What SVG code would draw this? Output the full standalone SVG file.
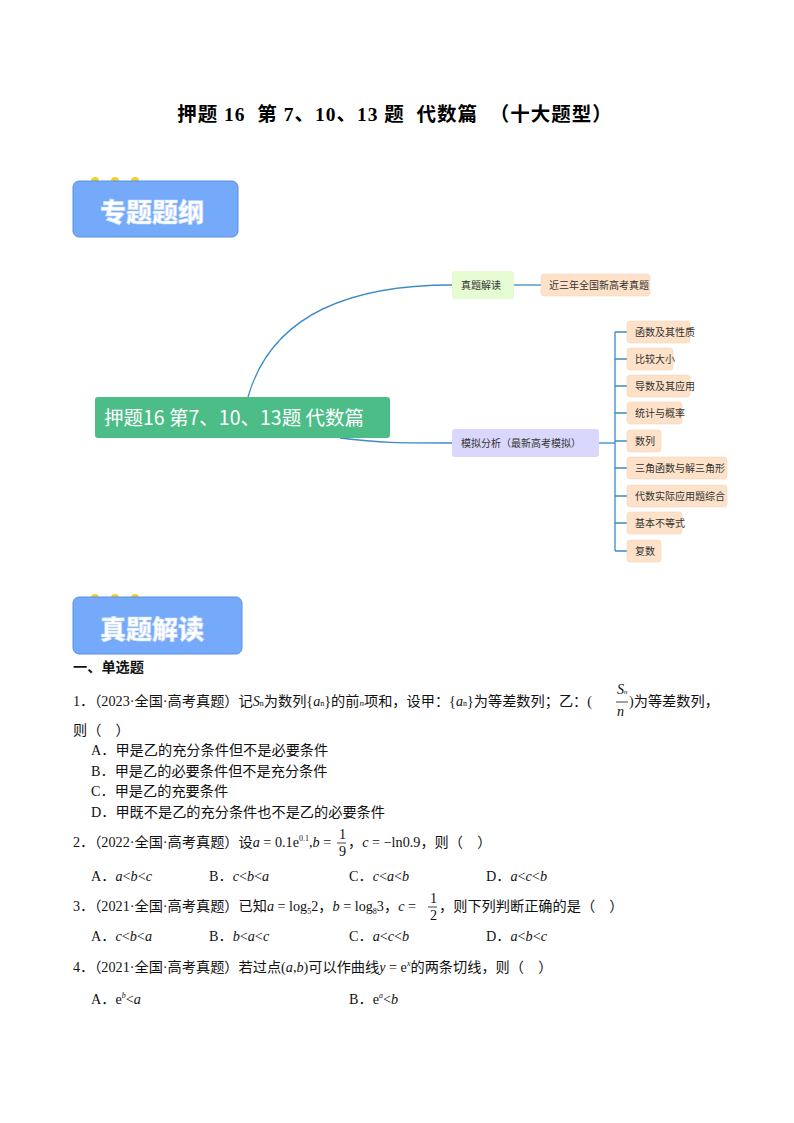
<svg xmlns="http://www.w3.org/2000/svg" width="794" height="1123" viewBox="0 0 794 1123">
<style>
.t{font-family:"Liberation Serif","Noto Sans CJK SC",serif;font-size:14.2px;fill:#111}
.i{font-style:italic}
.m{font-family:"Noto Sans CJK SC",sans-serif;font-size:10px;fill:#333}
.pe{fill:#fde2c9;stroke:#f3d3b3;stroke-width:0.5}
.hd{fill:#75a9f9;stroke:#5b8fe6;stroke-width:1}
.hdt{font-family:"Noto Sans CJK SC",sans-serif;font-weight:900;font-size:26px;fill:#fff;stroke:#c9dcfb;stroke-width:0.6}
.dot{fill:#f5d020}
.c{fill:none;stroke:#3a8cc4;stroke-width:1.3}
</style>
<rect width="794" height="1123" fill="#fff"/>
<text x="395" y="121" text-anchor="middle" font-family="Liberation Serif,'Noto Sans CJK SC',serif" font-weight="bold" font-size="19.5" letter-spacing="1" xml:space="preserve">押题 16  第 7、10、13 题  代数篇  （十大题型）</text>
<g id="header1"><circle class="dot" cx="95" cy="181" r="4"/><circle class="dot" cx="115" cy="181" r="4"/><circle class="dot" cx="135" cy="181" r="4"/><rect class="hd" x="73" y="181" width="165" height="56" rx="6"/><text class="hdt" x="100" y="222">专题题纲</text></g>
<g id="connectors">
<path class="c" d="M248,397 C270,320 340,285 452,285"/>
<path class="c" d="M340,438 C380,443 400,443 452,443"/>
<path class="c" d="M514,285 L541,285"/>
<path class="c" d="M599,443 L615,443"/>
<path class="c" d="M615,332 V551 M615,332 H627 M615,359 H627 M615,386 H627 M615,413 H627 M615,441 H627 M615,468 H627 M615,496 H627 M615,523 H627 M615,551 H627" stroke-width="1"/>
</g>
<g id="root"><rect x="95" y="397" width="295" height="41" rx="3" fill="#4dbd88"/><text x="104" y="425" font-family="'Noto Sans CJK SC',sans-serif" font-size="19.5" fill="#fff">押题16 第7、10、13题 代数篇</text></g>
<g id="n1"><rect x="452" y="271" width="62" height="28" rx="3" fill="#e5fbd2"/><text class="m" x="461" y="289">真题解读</text></g>
<g id="n1a"><rect class="pe" x="541" y="274" width="109" height="22" rx="3"/><text class="m" x="549" y="289">近三年全国新高考真题</text></g>
<g id="n2"><rect x="452" y="429" width="147" height="28" rx="3" fill="#d9d7fb"/><text class="m" x="461" y="447">模拟分析（最新高考模拟）</text></g>
<g id="s1"><rect class="pe" x="627" y="321" width="63" height="22" rx="3"/><text class="m" x="635" y="336">函数及其性质</text></g>
<g id="s2"><rect class="pe" x="627" y="348" width="46" height="22" rx="3"/><text class="m" x="635" y="363">比较大小</text></g>
<g id="s3"><rect class="pe" x="627" y="375" width="63" height="22" rx="3"/><text class="m" x="635" y="390">导数及其应用</text></g>
<g id="s4"><rect class="pe" x="627" y="402" width="55" height="22" rx="3"/><text class="m" x="635" y="417">统计与概率</text></g>
<g id="s5"><rect class="pe" x="627" y="430" width="34" height="22" rx="3"/><text class="m" x="635" y="445">数列</text></g>
<g id="s6"><rect class="pe" x="627" y="457" width="100" height="22" rx="3"/><text class="m" x="635" y="472">三角函数与解三角形</text></g>
<g id="s7"><rect class="pe" x="627" y="485" width="100" height="22" rx="3"/><text class="m" x="635" y="500">代数实际应用题综合</text></g>
<g id="s8"><rect class="pe" x="627" y="512" width="55" height="22" rx="3"/><text class="m" x="635" y="527">基本不等式</text></g>
<g id="s9"><rect class="pe" x="627" y="540" width="34" height="22" rx="3"/><text class="m" x="635" y="555">复数</text></g>
<g id="header2"><circle class="dot" cx="95" cy="598" r="4"/><circle class="dot" cx="115" cy="598" r="4"/><circle class="dot" cx="135" cy="598" r="4"/><rect class="hd" x="73" y="597" width="169" height="57" rx="6"/><text class="hdt" x="100" y="639">真题解读</text></g>
<text class="t" x="73" y="672" font-weight="bold" font-size="13.5">一、单选题</text>
<text class="t" x="73" y="706">1．（2023·全国·高考真题）记<tspan class="i">S</tspan><tspan font-size="8">n</tspan>为数列{<tspan class="i">a</tspan><tspan font-size="8">n</tspan>}的前<tspan class="i" font-size="9">n</tspan>项和，设甲：{<tspan class="i">a</tspan><tspan font-size="8">n</tspan>}为等差数列；乙：(</text>
<text class="t i" x="617" y="694" font-size="11">S<tspan font-size="7">n</tspan></text>
<line x1="616" y1="702" x2="628" y2="702" stroke="#111" stroke-width="0.8"/>
<text class="t i" x="617" y="716" font-size="11">n</text>
<text class="t" x="629" y="706">)为等差数列，</text>
<text class="t" x="73" y="735">则（　）</text>
<text class="t" x="91" y="755">A．甲是乙的充分条件但不是必要条件</text>
<text class="t" x="91" y="776">B．甲是乙的必要条件但不是充分条件</text>
<text class="t" x="91" y="796">C．甲是乙的充要条件</text>
<text class="t" x="91" y="817">D．甲既不是乙的充分条件也不是乙的必要条件</text>
<text class="t" x="73" y="847">2．（2022·全国·高考真题）设<tspan class="i">a</tspan> = 0.1e<tspan font-size="8" dy="-6">0.1</tspan><tspan dy="6">,</tspan><tspan class="i">b</tspan> =</text>
<text class="t" x="339" y="839" font-size="11">1</text><line x1="337" y1="843" x2="346" y2="843" stroke="#111" stroke-width="0.8"/><text class="t" x="339" y="856" font-size="11">9</text>
<text class="t" x="348" y="847">，<tspan class="i">c</tspan> = −ln0.9，则（　）</text>
<text class="t" x="91" y="881">A．<tspan class="i">a</tspan>&lt;<tspan class="i">b</tspan>&lt;<tspan class="i">c</tspan></text>
<text class="t" x="209" y="881">B．<tspan class="i">c</tspan>&lt;<tspan class="i">b</tspan>&lt;<tspan class="i">a</tspan></text>
<text class="t" x="349" y="881">C．<tspan class="i">c</tspan>&lt;<tspan class="i">a</tspan>&lt;<tspan class="i">b</tspan></text>
<text class="t" x="486" y="881">D．<tspan class="i">a</tspan>&lt;<tspan class="i">c</tspan>&lt;<tspan class="i">b</tspan></text>
<text class="t" x="73" y="911">3．（2021·全国·高考真题）已知<tspan class="i">a</tspan> = log<tspan font-size="8" dy="3">5</tspan><tspan dy="-3">2，</tspan><tspan class="i">b</tspan> = log<tspan font-size="8" dy="3">8</tspan><tspan dy="-3">3，</tspan><tspan class="i">c</tspan> =</text>
<text class="t" x="430" y="903" font-size="11">1</text><line x1="428" y1="907" x2="437" y2="907" stroke="#111" stroke-width="0.8"/><text class="t" x="430" y="920" font-size="11">2</text>
<text class="t" x="439" y="911">，则下列判断正确的是（　）</text>
<text class="t" x="91" y="941">A．<tspan class="i">c</tspan>&lt;<tspan class="i">b</tspan>&lt;<tspan class="i">a</tspan></text>
<text class="t" x="209" y="941">B．<tspan class="i">b</tspan>&lt;<tspan class="i">a</tspan>&lt;<tspan class="i">c</tspan></text>
<text class="t" x="349" y="941">C．<tspan class="i">a</tspan>&lt;<tspan class="i">c</tspan>&lt;<tspan class="i">b</tspan></text>
<text class="t" x="486" y="941">D．<tspan class="i">a</tspan>&lt;<tspan class="i">b</tspan>&lt;<tspan class="i">c</tspan></text>
<text class="t" x="73" y="972">4．（2021·全国·高考真题）若过点(<tspan class="i">a</tspan>,<tspan class="i">b</tspan>)可以作曲线<tspan class="i">y</tspan> = e<tspan font-size="8" dy="-6" class="i">x</tspan><tspan dy="6">的两条切线，则（　）</tspan></text>
<text class="t" x="91" y="1004">A．e<tspan font-size="8" dy="-6" class="i">b</tspan><tspan dy="6">&lt;</tspan><tspan class="i">a</tspan></text>
<text class="t" x="349" y="1004">B．e<tspan font-size="8" dy="-6" class="i">a</tspan><tspan dy="6">&lt;</tspan><tspan class="i">b</tspan></text>
</svg>
